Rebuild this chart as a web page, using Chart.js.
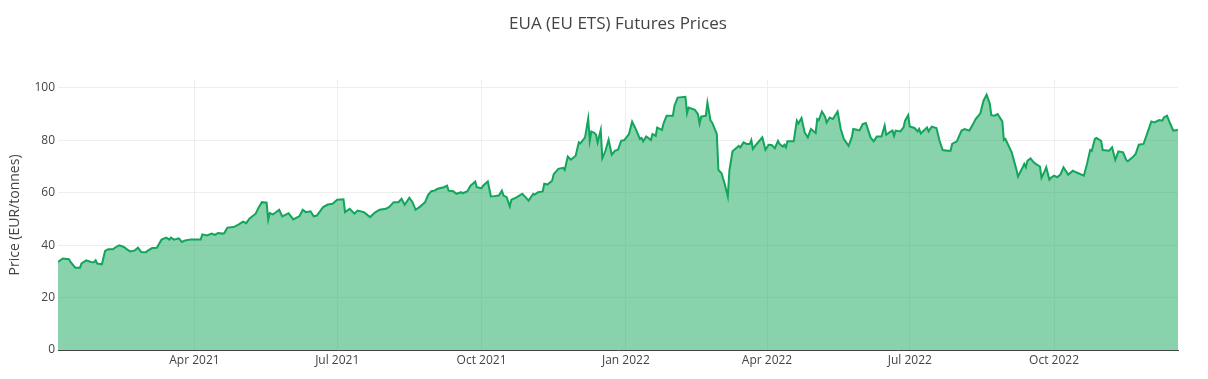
<!DOCTYPE html>
<html>
<head>
<meta charset="utf-8">
<script src="https://cdn.jsdelivr.net/npm/chart.js@4.4.1/dist/chart.umd.min.js"></script>
<style>
html,body{margin:0;padding:0;background:#fff;}
canvas{display:block;}
</style>
</head>
<body>
<canvas id="c" width="1208" height="379"></canvas>
<script>
const chartTitle = 'EUA (EU ETS) Futures Prices';
const yAxisTitle = 'Price (EUR/tonnes)';
const xStart = '2021-01-04';
const xEnd = '2022-12-19';
const yMax = 103;
const yTicks = [0, 20, 40, 60, 80, 100];
const xTickDates = ['2021-04-01','2021-07-01','2021-10-01','2022-01-01','2022-04-01','2022-07-01','2022-10-01'];
const xTickLabels = ['Apr 2021','Jul 2021','Oct 2021','Jan 2022','Apr 2022','Jul 2022','Oct 2022'];

const dates = [
'2021-01-04','2021-01-07','2021-01-11','2021-01-12','2021-01-15','2021-01-18','2021-01-19','2021-01-22','2021-01-25','2021-01-27','2021-01-28','2021-01-29',
'2021-02-01','2021-02-03','2021-02-05','2021-02-08','2021-02-10','2021-02-12','2021-02-15','2021-02-17','2021-02-19','2021-02-22','2021-02-24','2021-02-26',
'2021-03-01','2021-03-02','2021-03-05','2021-03-08','2021-03-11','2021-03-14','2021-03-16','2021-03-17','2021-03-19','2021-03-22','2021-03-24','2021-03-26','2021-03-30',
'2021-04-05','2021-04-06','2021-04-09','2021-04-12','2021-04-14','2021-04-16','2021-04-19','2021-04-20','2021-04-22','2021-04-26','2021-04-29',
'2021-05-02','2021-05-04','2021-05-06','2021-05-10','2021-05-12','2021-05-14','2021-05-17','2021-05-18','2021-05-19','2021-05-21','2021-05-25','2021-05-27','2021-05-31',
'2021-06-03','2021-06-07','2021-06-09','2021-06-11','2021-06-14','2021-06-16','2021-06-18','2021-06-22','2021-06-25','2021-06-28',
'2021-07-01','2021-07-05','2021-07-06','2021-07-09','2021-07-12','2021-07-14','2021-07-18','2021-07-22','2021-07-25','2021-07-27','2021-07-28',
'2021-08-01','2021-08-03','2021-08-06','2021-08-09','2021-08-11','2021-08-13','2021-08-16','2021-08-18','2021-08-20','2021-08-23','2021-08-26','2021-08-28','2021-08-30',
'2021-09-01','2021-09-03','2021-09-07','2021-09-09','2021-09-10','2021-09-13','2021-09-15','2021-09-18','2021-09-19','2021-09-22','2021-09-24','2021-09-27','2021-09-28',
'2021-10-01','2021-10-02','2021-10-05','2021-10-07','2021-10-09','2021-10-12','2021-10-14','2021-10-15','2021-10-17','2021-10-19','2021-10-20','2021-10-23','2021-10-27','2021-10-29','2021-10-31',
'2021-11-03','2021-11-04','2021-11-06','2021-11-09','2021-11-10','2021-11-12','2021-11-15','2021-11-16','2021-11-19','2021-11-22','2021-11-23','2021-11-25','2021-11-27','2021-11-30',
'2021-12-02','2021-12-03','2021-12-06','2021-12-08','2021-12-09','2021-12-10','2021-12-12','2021-12-13','2021-12-14','2021-12-16','2021-12-17','2021-12-19','2021-12-21','2021-12-23','2021-12-25','2021-12-27','2021-12-29','2021-12-31',
'2022-01-03','2022-01-05','2022-01-07','2022-01-10','2022-01-11','2022-01-12','2022-01-14','2022-01-17','2022-01-18','2022-01-20','2022-01-21','2022-01-24','2022-01-25','2022-01-27','2022-01-31',
'2022-02-01','2022-02-03','2022-02-08','2022-02-09','2022-02-10','2022-02-14','2022-02-16','2022-02-17','2022-02-18','2022-02-21','2022-02-22','2022-02-24','2022-02-25','2022-02-28',
'2022-03-01','2022-03-03','2022-03-05','2022-03-07','2022-03-08','2022-03-10','2022-03-13','2022-03-14','2022-03-15','2022-03-17','2022-03-19','2022-03-21','2022-03-22','2022-03-23','2022-03-25','2022-03-29','2022-03-31',
'2022-04-02','2022-04-04','2022-04-06','2022-04-08','2022-04-09','2022-04-11','2022-04-12','2022-04-13','2022-04-14','2022-04-18','2022-04-20','2022-04-21','2022-04-23','2022-04-25','2022-04-27','2022-04-29',
'2022-05-02','2022-05-03','2022-05-04','2022-05-06','2022-05-08','2022-05-09','2022-05-11','2022-05-13','2022-05-16','2022-05-18','2022-05-20','2022-05-23','2022-05-25','2022-05-26','2022-05-29','2022-05-30',
'2022-06-01','2022-06-03','2022-06-06','2022-06-08','2022-06-10','2022-06-13','2022-06-15','2022-06-16','2022-06-18','2022-06-20','2022-06-21','2022-06-22','2022-06-25','2022-06-27','2022-06-28','2022-06-30',
'2022-07-01','2022-07-04','2022-07-06','2022-07-07','2022-07-08','2022-07-11','2022-07-12','2022-07-13','2022-07-15','2022-07-18','2022-07-20','2022-07-22','2022-07-25','2022-07-27','2022-07-28','2022-07-31',
'2022-08-03','2022-08-05','2022-08-08','2022-08-10','2022-08-12','2022-08-15','2022-08-17','2022-08-19','2022-08-21','2022-08-22','2022-08-24','2022-08-26','2022-08-29','2022-08-30','2022-08-31',
'2022-09-04','2022-09-06','2022-09-07','2022-09-08','2022-09-11','2022-09-12','2022-09-13','2022-09-14','2022-09-16','2022-09-18','2022-09-20','2022-09-22','2022-09-23','2022-09-25','2022-09-26','2022-09-28','2022-09-29',
'2022-10-01','2022-10-03','2022-10-05','2022-10-07','2022-10-10','2022-10-13','2022-10-15','2022-10-20','2022-10-22','2022-10-24','2022-10-25','2022-10-27','2022-10-28','2022-10-31',
'2022-11-01','2022-11-05','2022-11-07','2022-11-09','2022-11-11','2022-11-14','2022-11-16','2022-11-17','2022-11-20','2022-11-22','2022-11-24','2022-11-27','2022-11-29',
'2022-12-02','2022-12-04','2022-12-07','2022-12-09','2022-12-10','2022-12-12','2022-12-14','2022-12-16','2022-12-19'
];

const prices = [
33.6,34.9,34.6,33.6,31.4,31.4,33.0,34.2,33.6,33.5,34.2,33.0,
32.7,37.8,38.4,38.4,39.3,39.9,39.3,38.4,37.6,38.0,39.0,37.4,
37.3,37.8,38.9,39.0,42.1,42.9,42.1,42.9,42.1,42.6,41.2,41.8,42.2,
42.2,44.1,43.7,44.4,43.9,44.6,44.4,44.6,46.7,46.9,47.8,
49.0,48.4,50.1,52.0,54.5,56.4,56.2,49.7,52.2,51.7,53.5,51.0,52.2,
49.8,51.1,53.5,52.6,52.9,51.0,51.3,54.5,55.5,55.8,
57.3,57.5,52.6,53.9,52.0,53.2,52.6,50.7,52.4,53.2,53.5,
53.9,54.5,56.4,56.4,57.7,55.4,58.1,56.4,53.5,54.8,56.4,59.2,60.6,
60.8,61.5,62.1,62.7,60.8,60.6,59.6,60.2,59.8,60.6,62.7,64.3,62.1,
61.7,62.7,64.3,58.6,58.7,58.9,60.8,58.9,58.3,54.8,57.3,58.1,59.6,58.3,57.0,
59.6,59.3,60.2,60.5,63.4,63.1,64.6,67.1,69.1,69.5,68.7,73.8,72.6,74.1,
79.2,78.8,81.1,88.3,79.8,83.4,82.8,82.1,79.2,84.0,73.2,76.0,80.2,74.5,76.0,76.4,79.8,80.1,
82.4,87.1,84.7,80.5,80.9,79.6,81.5,80.1,82.4,81.7,84.9,83.9,86.4,89.4,89.4,
93.2,96.3,96.6,90.3,92.5,91.6,90.0,86.4,89.0,89.4,94.4,87.5,86.8,82.4,
68.7,67.4,63.4,58.6,68.4,75.8,77.3,77.9,77.3,79.2,78.6,78.6,80.1,76.7,78.3,81.1,76.4,
78.3,78.2,77.0,79.8,78.6,77.6,78.3,77.3,79.6,79.6,87.5,86.4,88.5,83.0,81.1,84.3,
82.8,88.1,87.7,91.0,89.0,86.8,88.7,88.1,91.0,84.3,80.5,77.9,81.1,84.3,83.9,83.8,
86.2,86.6,81.1,79.6,81.4,81.4,85.6,82.1,83.0,83.7,81.7,83.7,83.4,84.9,87.5,89.6,
85.3,84.7,83.4,84.3,82.6,84.3,84.9,83.4,85.2,84.7,79.8,76.3,76.0,76.0,78.6,79.6,
83.7,84.3,83.7,85.8,88.1,90.3,95.1,97.4,94.0,89.6,89.4,90.0,87.2,80.1,80.5,
75.4,71.0,68.9,66.2,69.7,71.0,69.7,72.2,73.1,71.6,70.7,70.0,65.7,68.2,69.7,65.0,65.7,
66.5,65.9,66.9,69.7,66.9,68.4,67.8,66.5,71.0,76.3,76.0,80.5,80.9,79.8,
76.3,76.0,77.3,72.5,75.8,75.4,72.5,72.0,73.5,74.8,78.3,78.6,82.0,
87.2,86.8,87.7,87.5,88.7,89.4,86.4,83.7,83.9
];

const lineColor = '#12a55b';
const fillColor = 'rgba(17,165,90,0.5)';
const textColor = '#444';

Chart.defaults.font.family = "'Open Sans', 'Noto Sans', sans-serif";
Chart.defaults.color = textColor;

const plotTitle = {
  id: 'plotTitle',
  afterDraw(chart) {
    const { ctx, chartArea } = chart;
    ctx.save();
    ctx.font = "17px 'Open Sans', sans-serif";
    ctx.fillStyle = textColor;
    ctx.textAlign = 'center';
    ctx.textBaseline = 'middle';
    ctx.fillText(chartTitle, (chartArea.left + chartArea.right) / 2, 24);
    ctx.restore();
  }
};

const points = dates.map((d, i) => ({ x: Date.parse(d), y: prices[i] }));

new Chart(document.getElementById('c').getContext('2d'), {
  type: 'line',
  data: {
    datasets: [{
      data: points,
      borderColor: lineColor,
      backgroundColor: fillColor,
      borderWidth: 2,
      pointRadius: 0,
      fill: 'origin',
      tension: 0
    }]
  },
  options: {
    responsive: false,
    animation: false,
    events: [],
    layout: { padding: { top: 80, left: 0, right: 30, bottom: 0 } },
    plugins: {
      legend: { display: false },
      tooltip: { enabled: false },
      title: { display: false }
    },
    scales: {
      x: {
        type: 'linear',
        min: Date.parse(xStart),
        max: Date.parse(xEnd),
        afterBuildTicks: s => { s.ticks = xTickDates.map(d => ({ value: Date.parse(d) })); },
        afterFit: s => { s.height = 29; },
        ticks: {
          callback: (v, i) => xTickLabels[i],
          maxRotation: 0,
          autoSkip: false,
          padding: 3,
          font: { size: 12 },
          color: textColor
        },
        grid: { color: '#eeeeee', lineWidth: 1, drawTicks: false },
        border: { display: true, color: textColor, width: 1 }
      },
      y: {
        min: 0,
        max: yMax,
        afterBuildTicks: s => { s.ticks = yTicks.map(v => ({ value: v })); },
        afterFit: s => { s.width = 58; },
        ticks: { padding: 3, font: { size: 12 }, color: textColor },
        grid: { color: '#eeeeee', lineWidth: 1, drawTicks: false },
        border: { display: false },
        title: {
          display: true,
          text: yAxisTitle,
          font: { size: 14 },
          color: textColor,
          padding: { top: 7, bottom: 0 }
        }
      }
    }
  },
  plugins: [plotTitle]
});
</script>
</body>
</html>
